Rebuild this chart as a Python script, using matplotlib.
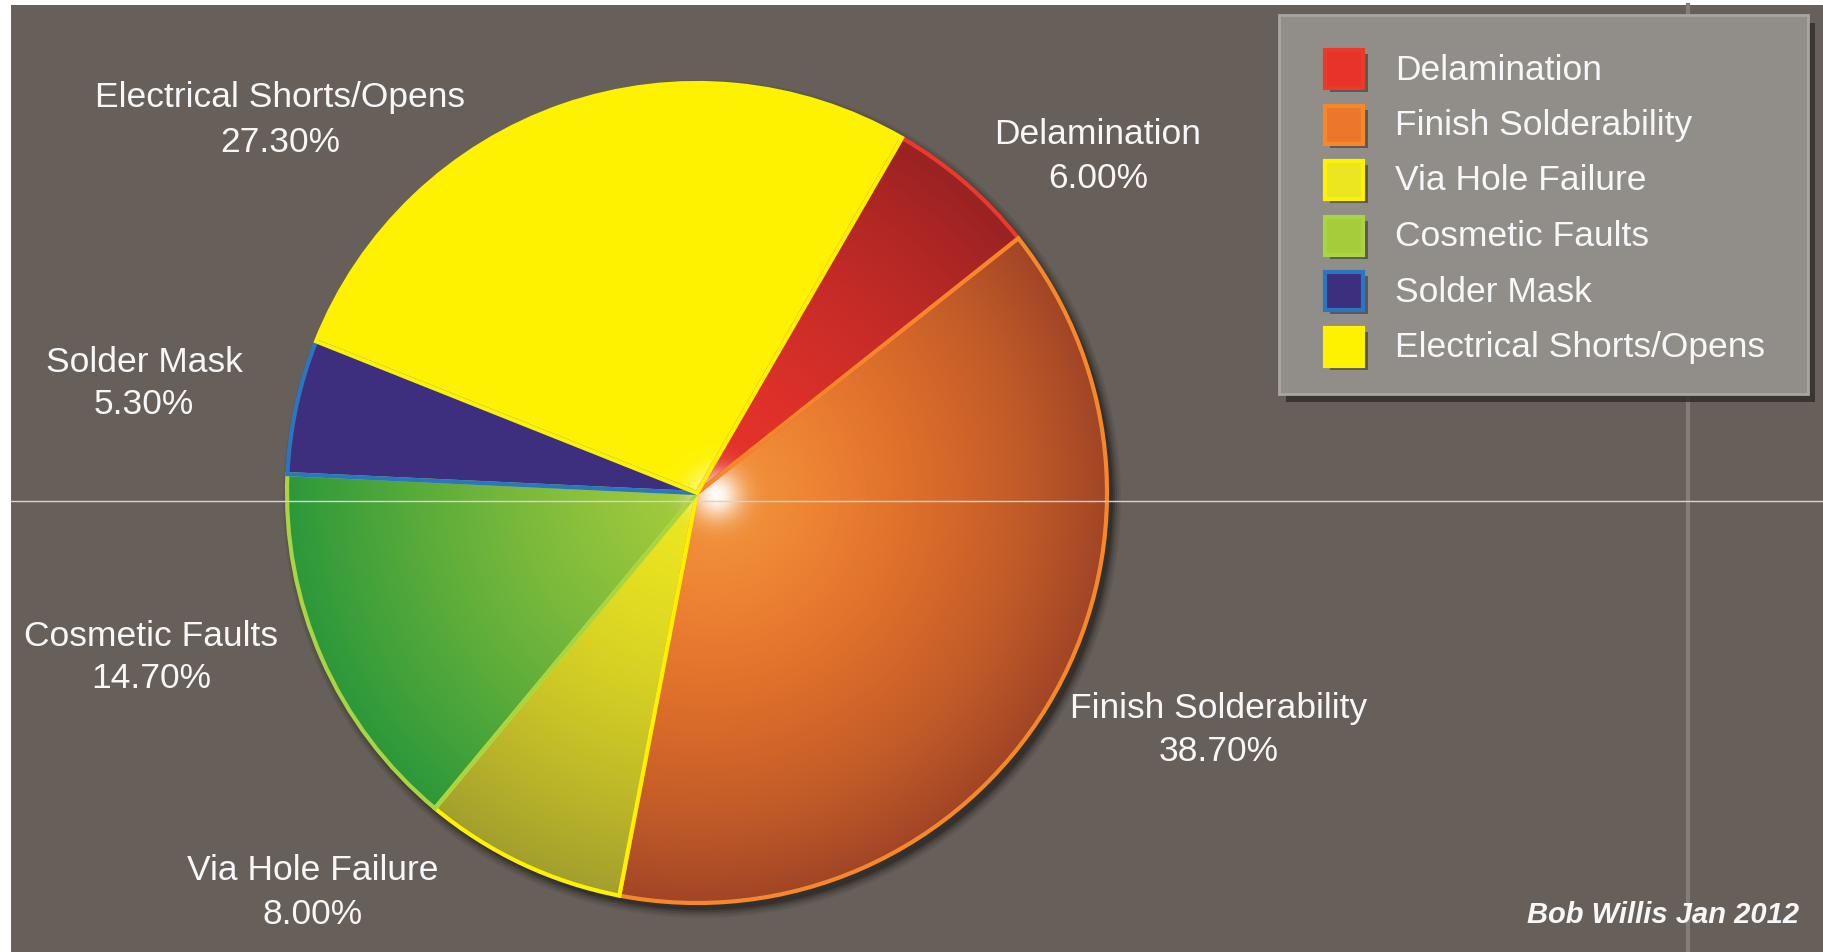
import numpy as np
import matplotlib.pyplot as plt
from matplotlib.patches import Rectangle, Circle
from matplotlib.colors import to_rgb

categories = ["Delamination", "Finish Solderability", "Via Hole Failure",
              "Cosmetic Faults", "Solder Mask", "Electrical Shorts/Opens"]
shares = [6.0, 38.7, 8.0, 14.7, 5.3, 27.3]

# inner / outer shade of each slice (radial gradient), and the rim colour
inner_colors = ["#e8332b", "#ec772c", "#ece620", "#a6cc3c", "#3d2f7e", "#fff200"]
outer_colors = ["#992222", "#a04526", "#a39f2e", "#2c983a", "#3d2f7e", "#fff200"]
shade_power = [1.6, 2.4, 1.6, 1.2, 1.0, 1.0]
rim_colors = ["#ec3a2a", "#f7882a", "#fff200", "#a9d443", "#2a76c0", "#fff200"]

# label anchors in pixel coords (x, y of the name line, y of the percent line)
label_pos = [(1098, 135, 179), (1219, 709, 752), (313, 871, 915),
             (151, 636, 679), (144, 362, 405), (280, 98, 142)]

W, H = 1823, 953
BG = "#675f59"
FONT = ["Liberation Sans", "DejaVu Sans"]
FS = 25.5

fig = plt.figure(figsize=(W / 100, H / 100), dpi=100, facecolor="white")
ax = fig.add_axes([0, 0, 1, 1])
ax.set_xlim(0, W)
ax.set_ylim(0, H)
ax.axis("off")

# background panel (thin white margin at top/left)
ax.add_patch(Rectangle((11, 0), W - 11, H - 6, facecolor=BG, edgecolor="none", zorder=0))

# faint guide line running down the panel
ax.plot([1688, 1688], [0, H - 6], color="#857d77", lw=3, zorder=1)

cx, cy, r = 697, 459, 410

# soft drop shadow behind the pie
for k, a in enumerate([0.10, 0.14, 0.2, 0.35, 0.6]):
    ax.add_patch(Circle((cx + 5, cy - 6), r + 9 - 2 * k, facecolor="#2b2826",
                        edgecolor="none", alpha=a, zorder=2))

wedges, _ = ax.pie(shares, startangle=60, counterclock=False, center=(cx, cy),
                   radius=r, colors=inner_colors, frame=True,
                   wedgeprops=dict(linewidth=0, zorder=3))

# radial shading, clipped to each slice
n = 600
xs = np.linspace(-1, 1, n)
gx, gy = np.meshgrid(xs, xs)
dist = np.clip(np.hypot(gx, gy), 0, 1)
for w, c_in, c_out, p in zip(wedges, inner_colors, outer_colors, shade_power):
    if c_in == c_out:
        continue
    t = (dist ** p)[..., None]
    img = (1 - t) * np.array(to_rgb(c_in)) + t * np.array(to_rgb(c_out))
    im = ax.imshow(img, extent=(cx - r, cx + r, cy - r, cy + r), origin="lower",
                   zorder=4, interpolation="bilinear")
    im.set_clip_path(w)

# warm halo inside the biggest slice, then a white core at the hub
gd = np.hypot(gx * r - 20, gy * r + 2)
halo = np.zeros((n, n, 4))
halo[..., :3] = to_rgb("#f7a848")
halo[..., 3] = np.exp(-(gd / 130.0) ** 2) * 0.55
him = ax.imshow(halo, extent=(cx - r, cx + r, cy - r, cy + r), origin="lower", zorder=5)
him.set_clip_path(wedges[int(np.argmax(shares))])

core = np.zeros((n, n, 4))
core[..., :3] = 1.0
core[..., 3] = np.exp(-(gd / 24.0) ** 2) * 0.98
cim = ax.imshow(core, extent=(cx - r, cx + r, cy - r, cy + r), origin="lower", zorder=5)
cim.set_clip_path(Circle((cx, cy), r, transform=ax.transData))

# slice rims
rims, _ = ax.pie(shares, startangle=60, counterclock=False, center=(cx, cy),
                 radius=r, frame=True,
                 wedgeprops=dict(linewidth=3, fill=False, zorder=6))
for w, ec in zip(rims, rim_colors):
    w.set_edgecolor(ec)

ax.set_xlim(0, W)
ax.set_ylim(0, H)
ax.set_aspect("equal")
ax.axis("off")

ax.plot([11, W], [H - 502, H - 502], color="#d8d4d0", lw=1, zorder=7)

# slice labels
for name, val, (lx, y1, y2) in zip(categories, shares, label_pos):
    ax.text(lx, H - y1, name, ha="center", va="center", color="#f7f7f7",
            fontsize=FS, family=FONT, zorder=8)
    ax.text(lx, H - y2, f"{val:.2f}%", ha="center", va="center", color="#f7f7f7",
            fontsize=FS, family=FONT, zorder=8)

# legend box
lx0, ly0, lw_, lh_ = 1279, 16, 529, 379
ax.add_patch(Rectangle((lx0 + 7, H - ly0 - lh_ - 8), lw_, lh_, facecolor="#2f2b28",
                       edgecolor="none", alpha=0.8, zorder=8))
ax.add_patch(Rectangle((lx0, H - ly0 - lh_), lw_, lh_, facecolor="#918d88",
                       edgecolor="#a9a5a0", lw=2, zorder=9))
row_y = [70, 126, 181, 237, 292, 348]
for name, c_in, ec, ry in zip(categories, inner_colors, rim_colors, row_y):
    sq = 38
    ax.add_patch(Rectangle((1330, H - ry - sq / 2 - 4), sq, sq, facecolor="#3a3633",
                           edgecolor="none", alpha=0.6, zorder=10))
    ax.add_patch(Rectangle((1325, H - ry - sq / 2), sq, sq, facecolor=c_in,
                           edgecolor=ec, lw=3, zorder=11))
    ax.text(1395, H - ry, name, ha="left", va="center", color="#f7f7f7",
            fontsize=FS, family=FONT, zorder=11)

ax.text(1799, H - 915, "Bob Willis Jan 2012", ha="right", va="center", color="#f7f7f7",
        fontsize=21, fontweight="bold", fontstyle="italic", family=FONT, zorder=8)

fig.savefig("out.png", dpi=100, facecolor="white")
